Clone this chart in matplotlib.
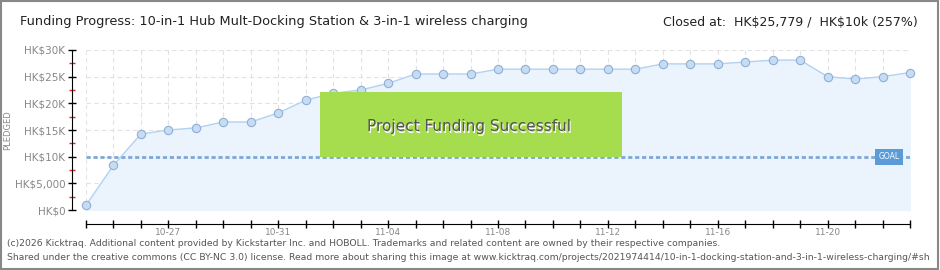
import matplotlib
matplotlib.use("Agg")
import matplotlib.pyplot as plt
from matplotlib.patches import Rectangle
from matplotlib.ticker import MultipleLocator, FuncFormatter
import pandas as pd

# Pledge totals per day (HK$)
dates = pd.date_range("2025-10-24", "2025-11-23", freq="D")
pledged = [900, 8400, 14250, 15000, 15400, 16500, 16500, 18200, 20600, 21900,
           22500, 23750, 25500, 25500, 25500, 26400, 26400, 26400, 26400, 26400,
           26400, 27400, 27400, 27400, 27750, 28100, 28100, 25000, 24550, 25000,
           25779]
goal = 10000
title = "Funding Progress: 10-in-1 Hub Mult-Docking Station & 3-in-1 wireless charging"
closed = r"Closed at:  HK\$25,779 /  HK\$10k (257%)"
footer1 = ("(c)2026 Kicktraq. Additional content provided by Kickstarter Inc. and HOBOLL. "
           "Trademarks and related content are owned by their respective companies.")
footer2 = ("Shared under the creative commons (CC BY-NC 3.0) license. Read more about sharing this image at "
           "www.kicktraq.com/projects/2021974414/10-in-1-docking-station-and-3-in-1-wireless-charging/#sh")

plt.rcParams['font.family'] = ['DejaVu Sans']

fig = plt.figure(figsize=(9.4, 2.7), dpi=100)
fig.patches.append(Rectangle((0.001, 0.004), 0.997, 0.992, transform=fig.transFigure,
                             fill=False, edgecolor="#888888", linewidth=1.5))

ax = fig.add_axes([86 / 940, 1 - 210 / 270, 824 / 940, 160 / 270])
ax.set_facecolor("none")

ax.fill_between(dates, pledged, 0, color="#ebf3fc", zorder=1)
ax.plot(dates, pledged, color="#b3d2f2", linewidth=1, marker="o", markersize=6,
        markerfacecolor="#c6dcf5", markeredgecolor="#8fb0d3", markeredgewidth=0.8,
        zorder=3, clip_on=False)
ax.axhline(goal, color="#7fa7d6", linestyle=(0, (1.5, 1)), linewidth=2, zorder=2)
ax.text(dates[-2] + pd.Timedelta(hours=6), goal, "GOAL", fontsize=5.5, color="white",
        ha="center", va="center", zorder=4,
        bbox=dict(boxstyle="square,pad=0.45", facecolor="#5b9bd8", edgecolor="none"))

ax.set_xlim(dates[0], dates[-1])
ax.set_ylim(0, 30000)
ax.grid(True, which="major", color="#e2e2e2", linestyle=(0, (4, 3)), linewidth=0.8)
ax.set_xticks(dates, minor=True)
ax.xaxis.grid(True, which="minor", color="#e2e2e2", linestyle=(0, (4, 3)), linewidth=0.8)
ax.set_axisbelow(True)

ax.set_xticks(dates[3::4])
ax.set_xticklabels([d.strftime("%m-%d") for d in dates[3::4]])
ax.yaxis.set_major_locator(MultipleLocator(5000))
ax.yaxis.set_minor_locator(MultipleLocator(2500))


def money(v, pos):
    if v == 0:
        return "HK$0"
    if v < 10000:
        return "HK${:,.0f}".format(v)
    return "HK${:.0f}K".format(v / 1000)


ax.yaxis.set_major_formatter(FuncFormatter(money))

ax.tick_params(axis="x", which="both", direction="inout", length=6, width=1, pad=0,
               labelsize=6.5, labelcolor="#888888")
ax.tick_params(axis="y", which="major", direction="inout", length=6, width=1, pad=2,
               labelsize=7.5, labelcolor="#888888")
ax.tick_params(axis="y", which="minor", direction="inout", length=5, width=1, color="#ee2222")

for s in ["top", "right"]:
    ax.spines[s].set_visible(False)
ax.spines["left"].set_position(("outward", 10))
ax.spines["bottom"].set_position(("outward", 10))
fig.text(8 / 940, 1 - 130 / 270, "PLEDGED", fontsize=6, color="#888888", rotation=90,
         ha="center", va="center")

# success banner
fig.patches.append(Rectangle((320 / 940, 1 - 157 / 270), 302 / 940, 65 / 270,
                             transform=fig.transFigure, facecolor="#a5dd4f",
                             edgecolor="none", zorder=5))
fig.text(469 / 940 + 0.001, 1 - 127 / 270 - 0.004, "Project Funding Successful", fontsize=11,
         color="white", ha="center", va="center", zorder=6)
fig.text(469 / 940, 1 - 127 / 270, "Project Funding Successful", fontsize=11,
         color="#555555", ha="center", va="center", zorder=7)

fig.text(20 / 940, 1 - 22 / 270, title, fontsize=9.3, color="#222222", va="center")
fig.text(918 / 940, 1 - 22 / 270, closed, fontsize=9.0, color="#222222", va="center", ha="right")
fig.text(7 / 940, 1 - 243 / 270, footer1, fontsize=6.7, color="#555555", va="center")
fig.text(7 / 940, 1 - 257 / 270, footer2, fontsize=6.7, color="#555555", va="center")

fig.savefig("out.png", dpi=100)
